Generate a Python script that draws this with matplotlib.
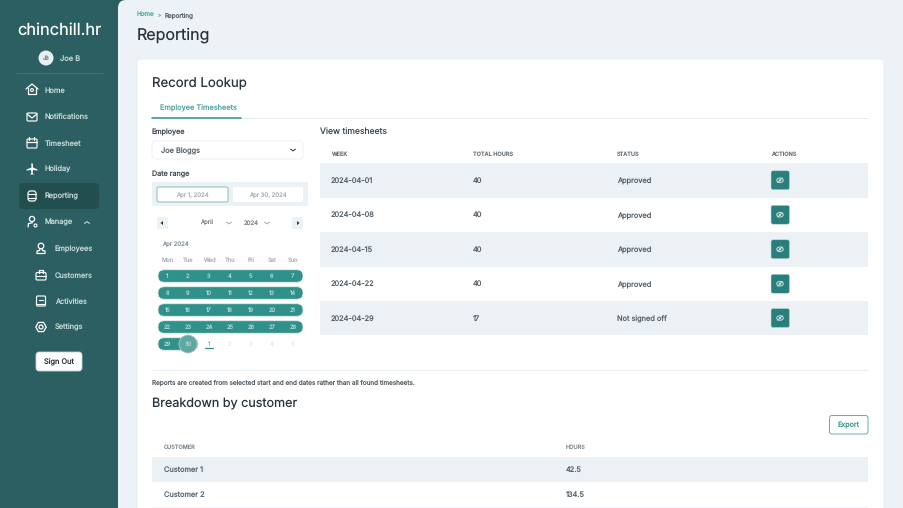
import matplotlib
matplotlib.use('Agg')
import matplotlib.pyplot as plt
from matplotlib.patches import FancyBboxPatch, Rectangle, Circle, Polygon, Ellipse

plt.rcParams['font.family'] = ['Inter', 'DejaVu Sans']
plt.rcParams['text.hinting'] = 'no_hinting'

nav_items = ['Home', 'Notifications', 'Timesheet', 'Holiday', 'Reporting', 'Manage']
sub_items = ['Employees', 'Customers', 'Activities', 'Settings']
weeks = ['2024-04-01', '2024-04-08', '2024-04-15', '2024-04-22', '2024-04-29']
total_hours = [40, 40, 40, 40, 17]
statuses = ['Approved', 'Approved', 'Approved', 'Approved', 'Not signed off']
week_days = ['Mon', 'Tue', 'Wed', 'Thu', 'Fri', 'Sat', 'Sun']
customers = ['Customer 1', 'Customer 2']
customer_hours = [42.5, 134.5]

SIDE = '#2b5f61'
SIDE_DARK = '#234e50'
BG = '#edf2f6'
TEAL = '#2f9189'
BTN = '#2a7f7d'
INK = '#2a333b'
BODY = '#59636b'
GREY = '#adb4ba'
ROW = '#ecf1f5'
SIDE_TEXT = '#c6d8d8'

fig = plt.figure(figsize=(9.04, 5.08), dpi=100)
ax = fig.add_axes([0, 0, 1, 1])
ax.set_xlim(0, 904)
ax.set_ylim(508, 0)
ax.axis('off')


def box(x0, y0, x1, y1, fc, r=3, ec='none', lw=0, z=1):
    p = FancyBboxPatch((x0, y0), x1 - x0, y1 - y0, boxstyle=f'round,pad=0,rounding_size={r}',
                       fc=fc, ec=ec, lw=lw, zorder=z)
    ax.add_patch(p)


def text(x, y, s, px, color=INK, ha='left', weight='normal', z=5, **kw):
    # baseline placement so descenders don't shift a row up, 0.36 is about half of Inter's cap height
    ax.text(x, y + 0.36 * px, s, fontsize=px * 0.72, color=color, ha=ha, va='baseline', weight=weight, zorder=z, **kw)


def line(xs, ys, color='white', lw=1.0, z=4):
    ax.plot(xs, ys, color=color, lw=lw, zorder=z, solid_capstyle='round', solid_joinstyle='round')


def chevron(x, y, color='#555f68', up=False, s=2.5):
    d = -s * 0.7 if up else s * 0.7
    line([x - s, x, x + s], [y - d / 2, y + d / 2, y - d / 2], color=color, lw=0.7)


def outline(x0, y0, x1, y1, r=1.2, lw=0.9):
    box(x0, y0, x1, y1, 'none', r=r, ec='#eef5f5', lw=lw, z=4)


def nav_icon(name, x, y):
    if name == 'Home':
        line([x - 6, x, x + 6], [y - 1, y - 6, y - 1], lw=0.9)
        line([x - 4, x - 4, x + 4, x + 4], [y - 2, y + 4, y + 4, y - 2], lw=0.9)
        ax.add_patch(Circle((x, y), 1.4, fc='none', ec='white', lw=0.8, zorder=4))
    elif name == 'Notifications':
        outline(x - 5, y - 4, x + 5, y + 4)
        line([x - 5, x, x + 5], [y - 3, y + 1, y - 3], lw=0.9)
    elif name == 'Timesheet':
        outline(x - 5, y - 4, x + 5, y + 5)
        line([x - 5, x + 5], [y - 1, y - 1], lw=0.9)
        line([x - 2.5, x - 2.5], [y - 6, y - 3], lw=0.9)
        line([x + 2.5, x + 2.5], [y - 6, y - 3], lw=0.9)
    elif name == 'Holiday':
        ax.add_patch(Polygon([(x - 5.5, y + 0.5), (x - 0.5, y - 1.5), (x - 0.8, y - 5.5), (x + 0.8, y - 5.5),
                              (x + 1, y - 1.5), (x + 5.5, y + 0.5), (x + 5.5, y + 1.5), (x + 1, y + 1),
                              (x + 0.6, y + 4), (x + 2, y + 5.5), (x - 2, y + 5.5), (x - 0.6, y + 4),
                              (x - 1, y + 1), (x - 5.5, y + 1.5)], fc='white', ec='none', zorder=4))
    elif name == 'Reporting':
        outline(x - 4, y - 5, x + 4, y + 5, r=2.5)
        line([x - 4, x + 4], [y - 2, y - 2], lw=0.8)
        line([x - 4, x + 4], [y + 1.5, y + 1.5], lw=0.8)
    elif name == 'Manage':
        ax.add_patch(Circle((x, y - 3), 2.6, fc='none', ec='white', lw=0.9, zorder=4))
        line([x - 4, x - 3.5, x + 0.5], [y + 5, y + 1.5, y + 0.8], lw=0.9)
        ax.add_patch(Circle((x + 3.5, y + 3.5), 1.5, fc='none', ec='white', lw=0.8, zorder=4))
    elif name == 'Employees':
        ax.add_patch(Circle((x, y - 2.5), 2.8, fc='none', ec='white', lw=0.9, zorder=4))
        line([x - 1, x - 1.5, x - 4, x - 4, x + 4, x + 4, x + 1.5, x + 1],
             [y, y + 2, y + 2.5, y + 5, y + 5, y + 2.5, y + 2, y], lw=0.9)
    elif name == 'Customers':
        outline(x - 5, y - 2.5, x + 5, y + 5)
        line([x - 5, x + 5], [y + 0.8, y + 0.8], lw=0.8)
        line([x - 2, x - 2, x + 2, x + 2], [y - 2.5, y - 5, y - 5, y - 2.5], lw=0.9)
    elif name == 'Activities':
        outline(x - 4.5, y - 5, x + 4.5, y + 5)
        line([x - 2, x + 2], [y - 1, y - 1], lw=0.8)
        line([x - 4.5, x + 4.5], [y + 3, y + 3], lw=0.8)
    elif name == 'Settings':
        ax.add_patch(Circle((x, y), 2, fc='none', ec='white', lw=0.9, zorder=4))
        ax.add_patch(Polygon([(x - 2.6, y - 4.6), (x + 2.6, y - 4.6), (x + 5.2, y), (x + 2.6, y + 4.6),
                              (x - 2.6, y + 4.6), (x - 5.2, y)], fc='none', ec='white', lw=0.9, zorder=4))


# backgrounds
ax.add_patch(Rectangle((0, 0), 904, 508, fc=SIDE, ec='none', zorder=0))
box(118, 0, 930, 540, BG, r=8, z=1)
box(137, 59, 884, 530, 'white', r=4, ec='#e3e9ee', lw=0.5, z=2)

# sidebar
text(59.5, 29, 'chinchill.hr', 16.4, color='white', ha='center', z=5)
ax.add_patch(Circle((46, 58), 7.5, fc='#e9eef0', ec='none', zorder=4))
text(46, 58, 'JB', 5.5, color='#7a848b', ha='center')
text(60, 58, 'Joe B', 7.5, color=SIDE_TEXT)
line([16, 103], [73, 73], color='#477779', lw=0.6)
box(19, 183, 99, 209, SIDE_DARK, r=4, z=2)
nav_y = [90, 117, 143, 169, 196, 222]
for name, y in zip(nav_items, nav_y):
    nav_icon(name, 32, y)
    text(45, y, name, 7.4, color=SIDE_TEXT)
chevron(87, 222.5, color='#dfeaea', up=True)
sub_y = [248.5, 275, 301, 327]
for name, y in zip(sub_items, sub_y):
    nav_icon(name, 41, y)
    text(55, y, name, 7.4, color=SIDE_TEXT)
box(36, 352, 82, 371, 'white', r=3, ec='#c6d2d6', lw=0.6, z=3)
text(59, 361.5, 'Sign Out', 7.4, color='#2a333b', ha='center')

# header
text(137, 15, 'Home', 6.3, color='#56a5a3')
text(158, 15, '>', 5, color='#8b959e')
text(165, 15, 'Reporting', 6.3, color=BODY)
text(137, 34, 'Reporting', 16)
text(152, 83, 'Record Lookup', 13.2)
text(160, 108, 'Employee Timesheets', 7.4, color='#56a5a3')
line([241, 868], [117.5, 117.5], color='#e6ebef', lw=0.7)
line([152, 241], [117.5, 117.5], color='#2f8a88', lw=1.1)

# left form
text(152, 131.5, 'Employee', 7.2, color='#3f4952')
box(152, 141, 303, 159, 'white', r=3, ec='#eef1f4', lw=0.7, z=3)
text(161, 151, 'Joe Bloggs', 7.4, color=BODY)
chevron(293, 150, color='#2a333a')
text(152, 173.5, 'Date range', 7.2, color='#3f4952')
ax.add_patch(Rectangle((152, 182), 156, 24, fc=ROW, ec='none', zorder=3))
box(157, 187, 228, 202, 'white', r=1.5, ec='#8fb8b8', lw=0.7, z=4)
box(233, 187, 303, 202, 'white', r=1.5, z=4)
text(192, 194.5, 'Apr 1, 2024', 6, color=GREY, ha='center')
text(268, 194.5, 'Apr 30, 2024', 6, color=GREY, ha='center')

box(157, 217, 168, 229, ROW, r=2, z=3)
box(292, 217, 303, 229, ROW, r=2, z=3)
ax.add_patch(Polygon([(160.5, 223), (163, 221), (163, 225)], fc='#2a333a', ec='none', zorder=4))
ax.add_patch(Polygon([(299.5, 223), (297, 221), (297, 225)], fc='#2a333a', ec='none', zorder=4))
text(207, 223, 'April', 6, color='#7d878f', ha='center')
chevron(229, 223, color='#9aa3aa')
text(251, 223, '2024', 6, color='#7d878f', ha='center')
chevron(267, 223, color='#9aa3aa')
text(162, 244, 'Apr 2024', 6, color='#8b959e')

# calendar
col_x = [167.5, 188, 209, 230, 251, 272, 293]
row_y = [276, 293, 310, 327, 344]
for day, x in zip(week_days, col_x):
    text(x, 260, day, 5.8, color=GREY, ha='center')
for i, y in enumerate(row_y):
    end = 303 if i < 4 else 198
    box(158, y - 6.2, end, y + 6.2, TEAL, r=6.2, ec='#dbe9e8', lw=0.5, z=3)
ax.add_patch(Circle((188, 344), 9, fc='#5fa8a2', ec='#a8cfcb', lw=0.6, zorder=4))
day = 1
for i, y in enumerate(row_y):
    for j, x in enumerate(col_x):
        if day <= 30:
            text(x, y, str(day), 5.8, color='#a9d3ce', ha='center')
        else:
            text(x, y, str(day - 30), 5.8, color='#a3abb2' if day == 31 else '#e6eaee', ha='center')
        day += 1
line([205, 213], [347.5, 347.5], color=TEAL, lw=0.9)

# timesheet table
text(320, 131, 'View timesheets', 8.6, color='#3f4952')
head_x = [331, 473, 617, 771]
for x, s in zip(head_x, ['WEEK', 'TOTAL HOURS', 'STATUS', 'ACTIONS']):
    text(x, 154, s, 5.6, color='#6b757d', weight='medium')
table_y = [163, 197.5, 232, 266.5, 301, 335]
for i in range(len(weeks)):
    if i % 2 == 0:
        ax.add_patch(Rectangle((320, table_y[i]), 548, table_y[i + 1] - table_y[i], fc=ROW, ec='none', zorder=3))
    y = (table_y[i] + table_y[i + 1]) / 2
    text(331, y, weeks[i], 7.4, color=BODY)
    text(473, y, str(total_hours[i]), 7.4, color=BODY)
    # descender labels land a pixel high, push them back in line with the row
    text(617, y + 0.7, statuses[i], 7.4, color=BODY)
    box(771, y - 9.5, 789.5, y + 9.5, BTN, r=2, ec='#c7d9d9', lw=0.4, z=4)
    ax.add_patch(Ellipse((780, y), 6.5, 4.5, fc='none', ec='#cfe5e3', lw=0.7, zorder=5))
    ax.add_patch(Circle((780, y), 1.2, fc='#cfe5e3', ec='none', zorder=5))
    line([777.5, 782.5], [y + 2.5, y - 2.5], color='#cfe5e3', lw=0.5, z=5)

# breakdown
line([152, 868], [369.5, 369.5], color='#eef1f4', lw=0.7)
text(152, 382, 'Reports are created from selected start and end dates rather than all found timesheets.', 6.4,
     color=BODY)
text(152, 403, 'Breakdown by customer', 12.6)
box(829.5, 415.5, 868, 434, 'white', r=2.5, ec='#6aa9a7', lw=0.7, z=3)
text(849, 425, 'Export', 7.2, color='#3f9795', ha='center')
text(164, 447, 'CUSTOMER', 5.6, color='#7d878f')
text(566, 447, 'HOURS', 5.6, color='#7d878f')
cust_y = [457, 482, 507]
for i in range(len(customers)):
    if i % 2 == 0:
        ax.add_patch(Rectangle((152, cust_y[i]), 716, cust_y[i + 1] - cust_y[i], fc=ROW, ec='none', zorder=3))
    y = (cust_y[i] + cust_y[i + 1]) / 2
    text(164, y, customers[i], 7.4, color=BODY)
    text(566, y, str(customer_hours[i]), 7.4, color=BODY)
line([152, 868], [507, 507], color='#edf1f4', lw=0.6)

fig.savefig('out.png', dpi=100)
